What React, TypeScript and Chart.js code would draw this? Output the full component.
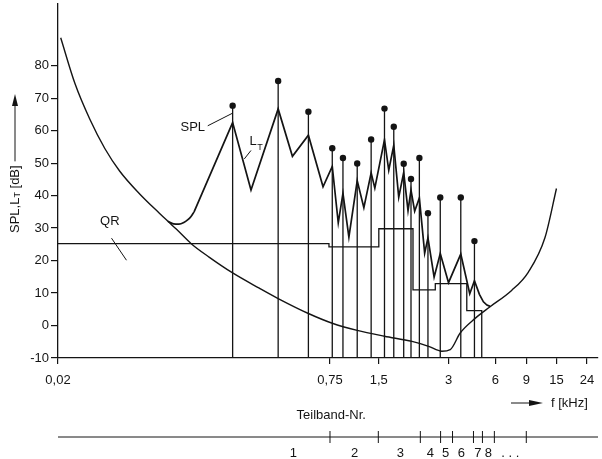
import React, { useEffect, useRef } from "react";
import { Chart, registerables } from "chart.js";

Chart.register(...registerables);

const INK = "#141414";
const FONT = "'Liberation Sans', Arial, Helvetica, sans-serif";

// Horizontal axis: warped frequency position (0 = 0,02 kHz ... 100 = right end)
const freqTickPos = [0, 50.37, 59.41, 72.32, 81.0, 86.72, 92.31, 97.97];
const freqTickLabels = ["0,02", "0,75", "1,5", "3", "6", "9", "15", "24"];
const dbTicks = [-10, 0, 10, 20, 30, 40, 50, 60, 70, 80];

// Threshold in quiet (Ruhehörschwelle)
const quietX = [0.5, 3.14, 5.9, 8.67, 11.44, 15.13, 18.82, 20.35, 21.9, 24.67, 28.04, 32.34, 37.27, 40.77, 46.37, 50.79, 55.41, 60.46, 65.55, 68.63, 71.09, 72.64, 74.48, 77.25, 80.02, 84.0, 87.08, 90.17, 92.31];
const quietY = [88.6, 74.5, 63.5, 54.5, 47.5, 40.5, 34.5, 32.1, 29.7, 25.2, 21.0, 16.2, 11.5, 8.3, 3.7, 0.7, -1.5, -3.3, -4.9, -6.4, -7.9, -7.4, -2.3, 2.2, 5.8, 10.8, 16.4, 27.0, 42.2];

// Masking threshold L_T: rounded foot, then straight segments
const maskFootX = [20.35, 21.4, 22.4, 23.3, 24.0, 24.6, 25.2];
const maskFootY = [32.1, 31.3, 31.2, 31.7, 32.5, 33.5, 35.0];
const maskX = [25.2, 32.34, 35.74, 40.77, 43.41, 46.37, 49.08, 50.79, 51.9, 52.77, 53.87, 55.41, 56.64, 57.99, 58.67, 60.46, 61.25, 62.18, 63.1, 64.02, 64.82, 65.37, 66.05, 66.92, 67.9, 68.51, 69.65, 70.79, 72.32, 74.59, 76.25, 77.12, 78.04, 78.78, 79.43, 80.02];
const maskY = [35.0, 62.5, 41.7, 66.7, 52.1, 58.6, 42.7, 49.0, 31.6, 40.7, 27.2, 44.6, 36.3, 47.0, 42.3, 57.2, 47.8, 55.5, 39.5, 47.1, 35.4, 41.7, 35.2, 39.3, 22.3, 27.0, 14.9, 22.2, 13.2, 22.0, 9.8, 13.8, 9.6, 7.3, 6.3, 5.9];

// Spectral lines (SPL)
const splX = [32.34, 40.77, 46.37, 50.79, 52.77, 55.41, 57.99, 60.46, 62.18, 64.02, 65.37, 66.92, 68.51, 70.79, 74.59, 77.12];
const splY = [67.7, 75.3, 65.8, 54.6, 51.6, 49.9, 57.3, 66.8, 61.2, 49.8, 45.1, 51.6, 34.6, 39.4, 39.4, 26.0];

// Quantisation noise QR (step line: level holds until the next x)
const qrX = [0, 50.18, 59.41, 65.74, 69.87, 75.7, 78.47, 78.47];
const qrY = [25.2, 24.2, 29.8, 11.0, 12.9, 4.6, 4.6, -10];

// Sub-band scale (Teilband-Nr.)
const bandEdges = [50.37, 59.32, 67.1, 70.85, 73.06, 76.94, 78.6, 80.81, 86.72];
const bandLabelPos = [43.6, 54.93, 63.41, 68.95, 71.77, 74.72, 77.73, 79.7, 83.76];
const bandLabels = ["1", "2", "3", "4", "5", "6", "7", "8", ". . ."];

const pts = (xs: number[], ys: number[]) => xs.map((x, i) => ({ x, y: ys[i] }));

const decor = {
  id: "decor",
  afterDraw(chart: any) {
    const ctx: CanvasRenderingContext2D = chart.ctx;
    const xs = chart.scales.x;
    const ys = chart.scales.y;
    const X = (v: number) => xs.getPixelForValue(v);
    const Y = (v: number) => ys.getPixelForValue(v);
    const area = chart.chartArea;
    const line = (x1: number, y1: number, x2: number, y2: number) => {
      ctx.beginPath();
      ctx.moveTo(x1, y1);
      ctx.lineTo(x2, y2);
      ctx.stroke();
    };
    ctx.save();
    ctx.fillStyle = INK;
    ctx.strokeStyle = INK;
    ctx.lineWidth = 1;
    ctx.font = `13px ${FONT}`;
    ctx.textBaseline = "middle";

    // QR label
    ctx.textAlign = "center";
    ctx.fillText("QR", X(9.59), Y(32.2));
    line(X(9.91), Y(26.9), X(12.68), Y(20.1));
    // SPL label
    ctx.fillText("SPL", X(24.96), Y(61.0));
    line(X(27.73), Y(61.5), X(32.23), Y(65.3));
    // L_T label
    ctx.textAlign = "left";
    ctx.fillText("L", X(35.45), Y(56.6));
    ctx.font = `9px ${FONT}`;
    ctx.fillText("T", X(36.9), Y(54.8));
    ctx.font = `13px ${FONT}`;
    line(X(35.74), Y(53.9), X(34.5), Y(51.3));

    // y axis title with arrow
    ctx.save();
    ctx.translate(15, 198);
    ctx.rotate(-Math.PI / 2);
    ctx.textAlign = "left";
    let tx = -35;
    ctx.fillText("SPL,L", tx, 0);
    tx += ctx.measureText("SPL,L").width;
    ctx.font = `9px ${FONT}`;
    ctx.fillText("T", tx, 3);
    tx += ctx.measureText("T").width;
    ctx.font = `13px ${FONT}`;
    ctx.fillText(" [dB]", tx, 0);
    tx += ctx.measureText(" [dB]").width;
    line(tx + 4, 0, 95, 0);
    ctx.beginPath();
    ctx.moveTo(104, 0);
    ctx.lineTo(92, -3);
    ctx.lineTo(92, 3);
    ctx.closePath();
    ctx.fill();
    ctx.restore();

    // f [kHz] arrow
    const ay = area.bottom + 45;
    line(511, ay, 532, ay);
    ctx.beginPath();
    ctx.moveTo(543, ay);
    ctx.lineTo(529, ay - 3);
    ctx.lineTo(529, ay + 3);
    ctx.closePath();
    ctx.fill();
    ctx.textAlign = "left";
    ctx.fillText("f [kHz]", 551, ay);

    // Sub-band scale
    const by = area.bottom + 79;
    ctx.textAlign = "center";
    ctx.fillText("Teilband-Nr.", X(50.6), area.bottom + 57);
    line(area.left, by, area.right, by);
    bandEdges.forEach((e) => line(X(e), by - 6, X(e), by + 6));
    bandLabels.forEach((t, i) => ctx.fillText(t, X(bandLabelPos[i]), area.bottom + 95));
    ctx.restore();
  },
};

export default function App() {
  const ref = useRef<HTMLCanvasElement | null>(null);
  useEffect(() => {
    document.body.style.margin = "0";
    const canvas = ref.current!;
    const stems: any[] = [];
    splX.forEach((x, i) => {
      stems.push({ x, y: -10 }, { x, y: splY[i] }, { x, y: null });
    });
    const chart = new Chart(canvas, {
      type: "line",
      data: {
        datasets: [
          {
            data: pts(quietX, quietY),
            borderColor: INK,
            borderWidth: 1.4,
            pointRadius: 0,
            cubicInterpolationMode: "monotone",
          },
          {
            data: pts(qrX, qrY),
            borderColor: INK,
            borderWidth: 1.3,
            pointRadius: 0,
            stepped: "before",
          },
          {
            data: stems,
            borderColor: INK,
            borderWidth: 1.3,
            pointRadius: 0,
            spanGaps: false,
          },
          {
            data: pts(maskFootX, maskFootY),
            borderColor: INK,
            borderWidth: 1.7,
            pointRadius: 0,
            cubicInterpolationMode: "monotone",
          },
          {
            data: pts(maskX, maskY),
            borderColor: INK,
            borderWidth: 1.7,
            pointRadius: 0,
            tension: 0,
          },
          {
            data: pts(splX, splY),
            showLine: false,
            pointRadius: 3.2,
            pointBackgroundColor: INK,
            pointBorderWidth: 0,
          },
        ] as any,
      },
      options: {
        responsive: false,
        animation: false,
        events: [],
        layout: { padding: { top: 0, right: 2, bottom: 0, left: 0 } },
        plugins: { legend: { display: false }, tooltip: { enabled: false } },
        scales: {
          x: {
            type: "linear",
            min: 0,
            max: 100,
            afterBuildTicks: (s: any) => {
              s.ticks = freqTickPos.map((value) => ({ value }));
            },
            afterFit: (s: any) => {
              s.height = 101;
              s.paddingLeft = 0;
              s.paddingRight = 0;
            },
            ticks: {
              autoSkip: false,
              maxRotation: 0,
              padding: 9,
              color: INK,
              font: { family: FONT, size: 13 },
              callback: (_v: any, i: number) => freqTickLabels[i],
            },
            grid: { drawOnChartArea: false, tickLength: 6, color: INK, lineWidth: 1.2 },
            border: { color: INK, width: 1.3 },
          },
          y: {
            type: "linear",
            min: -10,
            max: 99,
            afterBuildTicks: (s: any) => {
              s.ticks = dbTicks.map((value) => ({ value }));
            },
            afterFit: (s: any) => {
              s.width = 58;
              s.paddingTop = 0;
              s.paddingBottom = 0;
            },
            ticks: {
              autoSkip: false,
              padding: 2,
              color: INK,
              font: { family: FONT, size: 13 },
              callback: (v: any) => String(v),
            },
            grid: { drawOnChartArea: false, tickLength: 7, color: INK, lineWidth: 1.2 },
            border: { color: INK, width: 1.3 },
          },
        },
      } as any,
      plugins: [decor],
    });
    return () => chart.destroy();
  }, []);
  return <canvas ref={ref} width={602} height={459} style={{ display: "block" }} />;
}
